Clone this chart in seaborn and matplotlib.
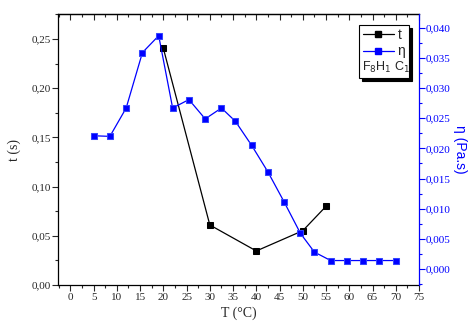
import matplotlib
matplotlib.use("Agg")
import matplotlib.pyplot as plt
import seaborn as sns
import pandas as pd
from matplotlib.lines import Line2D
from matplotlib.ticker import MultipleLocator, FuncFormatter

sns.set_theme(style="ticks")
plt.rcParams['font.family'] = ['Liberation Serif', 'DejaVu Serif']

# data
T_t = [20, 30, 40, 50, 55]
t_vals = [0.2405, 0.061, 0.0346, 0.0552, 0.080]
T_eta = [5, 8.5, 12, 15.5, 19, 22, 25.5, 29, 32.5, 35.5, 39, 42.5, 46, 49.5,
         52.5, 56, 59.5, 63, 66.5, 70]
eta_vals = [0.0221, 0.0220, 0.0267, 0.0359, 0.0387, 0.0267, 0.0281, 0.0249,
            0.0267, 0.0245, 0.0205, 0.0161, 0.0111, 0.0059, 0.0028, 0.0014,
            0.0014, 0.0014, 0.0014, 0.0014]

BLUE = '#0000ff'
SANS = ['Liberation Sans', 'DejaVu Sans']

fig = plt.figure(figsize=(4.69, 3.27), dpi=100)
ax = fig.add_axes([0.1243, 0.1284, 0.8934 - 0.1243, 0.9572 - 0.1284])
ax2 = ax.twinx()

df_t = pd.DataFrame({'T': T_t, 't': t_vals})
df_e = pd.DataFrame({'T': T_eta, 'eta': eta_vals})

sns.lineplot(data=df_t, x='T', y='t', ax=ax, color='black', marker='s',
             markersize=4.5, markeredgecolor='black', linewidth=0.9, legend=False)
sns.lineplot(data=df_e, x='T', y='eta', ax=ax2, color=BLUE, marker='s',
             markersize=4.5, markeredgecolor='#3344ff', linewidth=0.9, legend=False)

ax.set_xlim(-2.6, 75)
ax.set_ylim(0, 0.2754)
ax2.set_ylim(-0.00266, 0.0423)

comma = lambda d: FuncFormatter(lambda v, p: (f"{v:.{d}f}").replace('.', ','))
ax.xaxis.set_major_locator(MultipleLocator(5))
ax.xaxis.set_minor_locator(MultipleLocator(2.5))
ax.yaxis.set_major_locator(MultipleLocator(0.05))
ax.yaxis.set_minor_locator(MultipleLocator(0.025))
ax.yaxis.set_major_formatter(comma(2))
ax2.yaxis.set_major_locator(MultipleLocator(0.005))
ax2.yaxis.set_minor_locator(MultipleLocator(0.0025))
ax2.yaxis.set_major_formatter(comma(3))

ax.tick_params(axis='x', which='major', direction='out', length=4, width=0.8,
               labelsize=8, pad=2)
ax.tick_params(axis='x', which='minor', direction='out', length=2, width=0.8)
ax.tick_params(axis='y', which='major', direction='out', length=4, width=0.8,
               labelsize=8, pad=1)
ax.tick_params(axis='y', which='minor', direction='out', length=2, width=0.8)
ax2.tick_params(axis='y', which='major', direction='out', length=4, width=0.8,
                labelsize=8, pad=1, colors=BLUE)
ax2.tick_params(axis='y', which='minor', direction='out', length=2, width=0.8, colors=BLUE)

# top ticks inward
secx = ax.secondary_xaxis('top')
secx.xaxis.set_major_locator(MultipleLocator(5))
secx.xaxis.set_minor_locator(MultipleLocator(2.5))
secx.tick_params(which='major', direction='in', length=4, width=0.8, labeltop=False)
secx.tick_params(which='minor', direction='in', length=2, width=0.8)

for s in ['left', 'bottom', 'top']:
    ax.spines[s].set_linewidth(0.9)
    ax.spines[s].set_color('black')
secx.spines['top'].set_linewidth(0.9)
ax.spines['right'].set_visible(False)
ax2.spines['right'].set_color(BLUE)
ax2.spines['right'].set_linewidth(0.9)
for s in ['left', 'bottom', 'top']:
    ax2.spines[s].set_visible(False)

ax.set_xlabel('T (°C)', fontsize=10, labelpad=3)
ax.set_ylabel('t (s)', fontsize=10, labelpad=8)
ax2.set_ylabel('η (Pa.s)', fontsize=10, color=BLUE, rotation=270, labelpad=12,
               family=SANS)

handles = [Line2D([], [], color='black', marker='s', markersize=4.5, linewidth=0.9),
           Line2D([], [], color=BLUE, marker='s', markersize=4.5, linewidth=0.9),
           Line2D([], [], linestyle='none')]
leg = ax2.legend(handles, ['t', 'η', ' '], loc='upper left',
                 bbox_to_anchor=(0.835, 0.96), frameon=True, fancybox=False,
                 shadow={'color': 'black', 'alpha': 1},
                 handlelength=2.2, handletextpad=0.3, borderpad=0.25,
                 labelspacing=0.15, borderaxespad=0, framealpha=1,
                 prop={'family': SANS, 'size': 10})
leg.get_frame().set_edgecolor('black')
leg.get_frame().set_linewidth(0.8)
leg.set_zorder(10)
fig.canvas.draw()
bb = leg.get_window_extent()
fig.text((bb.x0 + 2.5) / fig.dpi / 4.69, (bb.y0 + 3) / fig.dpi / 3.27,
         'F$_8$H$_1$ C$_1$', fontsize=9, family=SANS,
         ha='left', va='bottom', zorder=11)

fig.savefig('out.png', dpi=100)
